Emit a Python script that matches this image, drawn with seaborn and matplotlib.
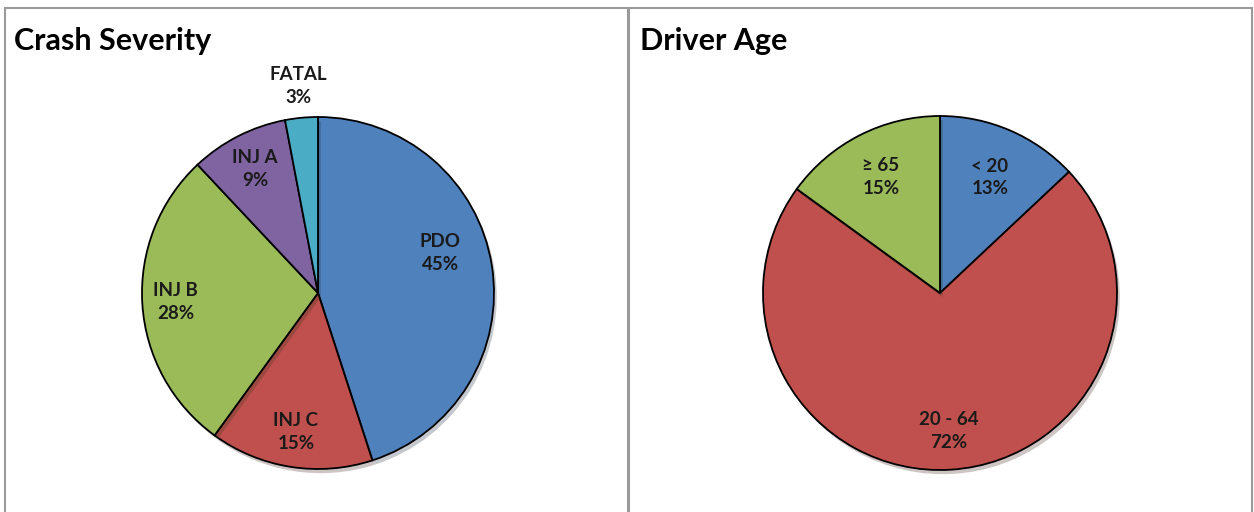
import matplotlib
matplotlib.use('Agg')
import matplotlib.pyplot as plt
import matplotlib.patches as mpatches
import matplotlib.patheffects as pe
import numpy as np
import seaborn as sns

# ---- 数据 ----
severity_labels = ['PDO', 'INJ C', 'INJ B', 'INJ A', 'FATAL']
severity_values = [45, 15, 28, 9, 3]

age_labels = ['< 20', '20 - 64', '\u2265 65']
age_values = [13, 72, 15]

# ---- 样式 ----
sns.set_theme(style='white')
plt.rcParams['font.family'] = ['Lato', 'DejaVu Sans']

excel = ['#4F81BD', '#C0504D', '#9BBB59', '#8064A2', '#4BACC6']
severity_colors = excel[:5]
age_colors = [excel[0], excel[1], excel[2]]
# 标签半径 (相对饼半径) 与角度微调 (度)
severity_label_r = [0.73, 0.80, 0.81, 0.79, 1.18]
severity_label_dt = [9, 0, 0, 0, 0]
age_label_r = [0.71, 0.78, 0.735]
age_label_dt = [0, 0, 0]

W, H = 1254, 512
fig = plt.figure(figsize=(W / 100, H / 100), dpi=100)
fig.patch.set_facecolor('white')

# 面板边框
for x0, x1 in [(5, 628), (629, 1252)]:
    fig.add_artist(mpatches.Rectangle((x0 / W, -0.05), (x1 - x0) / W, (H - 8) / H + 0.05,
                                      transform=fig.transFigure, fill=False,
                                      edgecolor='#9a9a9a', lw=1.5))


def draw_pie(cx, cy, radius, values, labels, colors, label_r, label_dt, title, title_x):
    half = 200
    ax = fig.add_axes([(cx - half) / W, (H - cy - half) / H, 2 * half / W, 2 * half / H])
    lim = half / radius
    wedges, _ = ax.pie(values, colors=colors, startangle=90, counterclock=False,
                       wedgeprops=dict(edgecolor='black', linewidth=1.3))
    for w in wedges:
        w.set_path_effects([pe.SimplePatchShadow(offset=(2, -3), alpha=0.25), pe.Normal()])
    for w, lab, v, r, dt in zip(wedges, labels, values, label_r, label_dt):
        ang = np.deg2rad((w.theta1 + w.theta2) / 2 + dt)
        ax.text(r * np.cos(ang), r * np.sin(ang), f'{lab}\n{v}%', ha='center', va='center',
                fontsize=13.5, fontweight='bold', color='#1a1a1a', linespacing=1.4)
    ax.set_xlim(-lim, lim)
    ax.set_ylim(-lim, lim)
    ax.set_aspect('equal')
    ax.axis('off')
    fig.text(title_x / W, 1 - 50 / H, title, fontsize=22, fontweight='bold',
             color='black', ha='left', va='baseline')


draw_pie(318, 293, 176, severity_values, severity_labels, severity_colors,
         severity_label_r, severity_label_dt, 'Crash Severity', 14)
draw_pie(940, 293, 177, age_values, age_labels, age_colors,
         age_label_r, age_label_dt, 'Driver Age', 640)

fig.savefig('out.png', dpi=100, facecolor='white')
